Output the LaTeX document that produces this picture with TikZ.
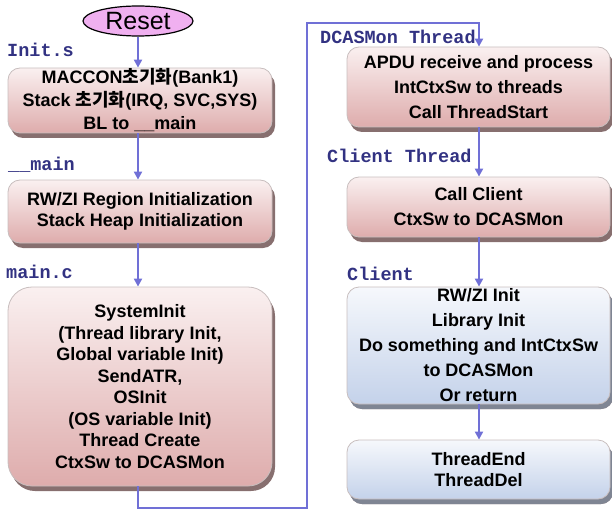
\documentclass[tikz,border=0pt]{standalone}
\usepackage{fontspec}
\setmainfont{Liberation Sans}
\setmonofont{Liberation Mono}
\newfontfamily\kr{Noto Sans CJK KR}
\usetikzlibrary{shapes.geometric,shadows,arrows.meta}
\definecolor{flow}{RGB}{112,112,214}
\definecolor{tag}{RGB}{50,50,130}
\definecolor{pinktop}{RGB}{250,240,240}
\definecolor{pinkbot}{RGB}{222,172,172}
\definecolor{bluetop}{RGB}{246,248,252}
\definecolor{bluebot}{RGB}{196,210,234}
\definecolor{edge}{RGB}{200,190,190}
\tikzset{
  pinkbox/.style={rectangle, rounded corners=12pt, draw=edge, line width=0.8pt,
    top color=pinktop, bottom color=pinkbot, align=center,
    font=\bfseries\fontsize{18}{23}\selectfont, inner sep=0pt,
    drop shadow={shadow xshift=3pt, shadow yshift=-5pt, fill=black!45!pinkbot, opacity=0.9}},
  bluebox/.style={pinkbox, top color=bluetop, bottom color=bluebot,
    drop shadow={shadow xshift=3pt, shadow yshift=-5pt, fill=black!35!bluebot, opacity=0.9}},
  tagtext/.style={anchor=west, text=tag, font=\ttfamily\bfseries\fontsize{18.5}{20}\selectfont, inner sep=0pt},
  flowline/.style={draw=flow, line width=2.4pt},
  flowarrow/.style={flowline, -{Triangle[length=8pt,width=8pt]}}
}
\begin{document}
\begin{tikzpicture}[x=1pt,y=-1pt]
\useasboundingbox (0,0) rectangle (612,513);
% start node
\node[ellipse, draw=black, line width=1.2pt, fill={rgb,255:red,240;green,176;blue,240},
  minimum width=110pt, minimum height=30pt, inner sep=0pt,
  font=\fontsize{25}{28}\selectfont] (reset) at (138,21) {Reset};

% left column
\node[tagtext] (tinit) at (7,50) {Init.s};
\node[pinkbox, minimum width=264pt, minimum height=65pt] (b1) at (140,100.5)
  {MACCON{\kr 초기화}(Bank1)\\Stack {\kr 초기화}(IRQ, SVC,SYS)\\BL to \_\_main};
\node[tagtext] (tmain) at (8,165) {\_\_main};
\node[pinkbox, minimum width=264pt, minimum height=63pt, font=\bfseries\fontsize{18}{21}\selectfont] (b2) at (140,211.5)
  {RW/ZI Region Initialization\\Stack Heap Initialization};
\node[tagtext] (tmainc) at (6,272) {main.c};
\node[pinkbox, rounded corners=24pt, minimum width=264pt, minimum height=199pt,
  font=\bfseries\fontsize{18}{21.5}\selectfont] (b3) at (140,386.5)
  {SystemInit\\(Thread library Init,\\Global variable Init)\\SendATR,\\OSInit\\(OS variable Init)\\Thread Create\\CtxSw to DCASMon};

% right column
\node[tagtext] (tdcas) at (320,37) {DCASMon Thread};
\node[pinkbox, minimum width=263pt, minimum height=80pt, font=\bfseries\fontsize{18}{25}\selectfont] (b4) at (478.5,87)
  {APDU receive and process\\IntCtxSw to threads\\Call ThreadStart};
\node[tagtext] (tcth) at (327,156) {Client Thread};
\node[pinkbox, minimum width=263pt, minimum height=60pt, font=\bfseries\fontsize{18}{25}\selectfont] (b5) at (478.5,207)
  {Call Client\\CtxSw to DCASMon};
\node[tagtext] (tcl) at (347,274) {Client};
\node[bluebox, minimum width=263pt, minimum height=117pt, font=\bfseries\fontsize{18}{25}\selectfont] (b6) at (478.5,345.5)
  {RW/ZI Init\\Library Init\\Do something and IntCtxSw\\to DCASMon\\Or return};
\node[bluebox, minimum width=263pt, minimum height=59pt, font=\bfseries\fontsize{18}{21}\selectfont] (b7) at (478.5,469.5)
  {ThreadEnd\\ThreadDel};

% turning points of the long connector
\coordinate (c1) at (138,508);
\coordinate (c2) at (307,508);
\coordinate (c3) at (307,23);
\coordinate (c4) at (479,23);

% connectors
\draw[flowarrow] (reset.south) -- (reset.south |- b1.north);
\draw[flowarrow] (138,0 |- b1.south) -- (138,0 |- b2.north);
\draw[flowarrow] (138,0 |- b2.south) -- (138,0 |- b3.north);
\draw[flowarrow] (138,0 |- b3.south) -- (c1) -- (c2) -- (c3) -- (c4) -- (479,0 |- b4.north);
\draw[flowarrow] (479,0 |- b4.south) -- (479,0 |- b5.north);
\draw[flowarrow] (479,0 |- b5.south) -- (479,0 |- b6.north);
\draw[flowarrow] (479,0 |- b6.south) -- (479,0 |- b7.north);
\end{tikzpicture}
\end{document}
